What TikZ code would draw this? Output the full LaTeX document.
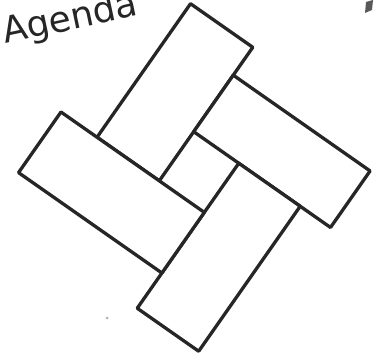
\documentclass[tikz,border=0pt]{standalone}
\usepackage{fontspec}
\setmainfont{DejaVu Sans}
\begin{document}
\begin{tikzpicture}[x=1pt,y=-1pt,
  tile/.style={draw=black!85,line width=3.3pt,line join=round,fill=white},
  title/.style={font=\fontsize{36}{36}\selectfont, text=black!85, inner sep=0pt, rotate=12, anchor=base west}]
\useasboundingbox (0,0) rectangle (375,358);
% rotated frame centred on the little square
\begin{scope}[shift={(200,171.5)}, x={(0.8192pt,-0.5736pt)}, y={(-0.5736pt,-0.8192pt)}]
  % top rectangle
  \draw[tile] (-104,-132) -- (-28,-132) -- (-28,31) -- (-104,31) -- cycle;
  % right rectangle
  \draw[tile] (-28,-98) -- (139,-98) -- (139,-29) -- (-28,-29) -- cycle;
  % bottom rectangle
  \draw[tile] (27,-29) -- (102,-29) -- (102,148) -- (27,148) -- cycle;
  % left rectangle
  \draw[tile] (-148,31) -- (27,31) -- (27,105) -- (-148,105) -- cycle;
\end{scope}
% title
\node[title] (agenda) at (5,44) {Agenda};
% smudges
\fill[black!65] (366,2) -- (373,0) -- (372,10) -- (365,13) -- cycle;
\fill[black!30] (107,318) circle (1.5);
\end{tikzpicture}
\end{document}
